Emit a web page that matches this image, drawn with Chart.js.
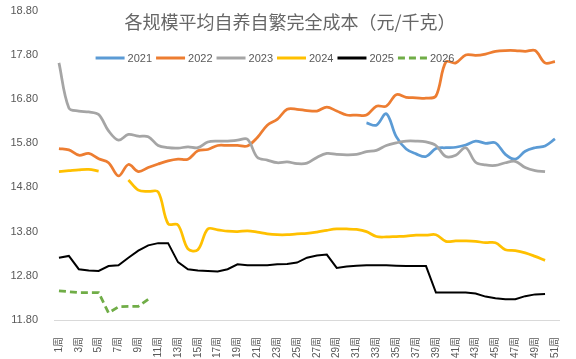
<!DOCTYPE html>
<html lang="zh">
<head>
    <meta charset="UTF-8">
    <script src="https://cdn.jsdelivr.net/npm/chart.js"></script>
    <title>各规模平均自养自繁完全成本</title>
    <style>
        body { margin: 0; background: #fff; }
        #wrap { width: 576px; height: 359px; }
    </style>
</head>
<body>
<div id="wrap"><canvas id="costChart" width="576" height="359"></canvas></div>

<script>
    var chartTitle = '各规模平均自养自繁完全成本（元/千克）';

    var weeks = ['1周','2周','3周','4周','5周','6周','7周','8周','9周','10周',
        '11周','12周','13周','14周','15周','16周','17周','18周','19周','20周',
        '21周','22周','23周','24周','25周','26周','27周','28周','29周','30周',
        '31周','32周','33周','34周','35周','36周','37周','38周','39周','40周',
        '41周','42周','43周','44周','45周','46周','47周','48周','49周','50周','51周'];

    var yTicks = [11.8, 12.8, 13.8, 14.8, 15.8, 16.8, 17.8, 18.8];

    var seriesNames = ['2021', '2022', '2023', '2024', '2025', '2026'];

    var y2021 = [null,null,null,null,null,null,null,null,null,null,
        null,null,null,null,null,null,null,null,null,null,
        null,null,null,null,null,null,null,null,null,null,
        null,16.26,16.21,16.47,15.95,15.67,15.56,15.50,15.68,15.70,
        15.71,15.76,15.85,15.80,15.81,15.55,15.44,15.62,15.70,15.74,15.90];

    var y2022 = [15.68,15.65,15.53,15.57,15.45,15.36,15.06,15.32,15.16,15.25,
        15.33,15.40,15.44,15.44,15.63,15.66,15.75,15.75,15.75,15.74,
        15.93,16.21,16.34,16.57,16.57,16.54,16.53,16.62,16.53,16.44,
        16.44,16.44,16.64,16.64,16.90,16.84,16.83,16.82,16.87,17.64,
        17.62,17.80,17.79,17.82,17.88,17.90,17.90,17.88,17.90,17.62,17.65];

    var y2023 = [17.62,16.60,16.53,16.51,16.45,16.08,15.87,16.00,15.96,15.95,
        15.75,15.70,15.69,15.72,15.70,15.83,15.85,15.85,15.87,15.89,
        15.48,15.42,15.36,15.38,15.34,15.35,15.48,15.57,15.55,15.54,
        15.55,15.61,15.64,15.75,15.81,15.85,15.85,15.83,15.75,15.50,
        15.53,15.70,15.37,15.31,15.30,15.36,15.39,15.25,15.18,15.16,null];

    var y2024 = [15.16,15.18,15.20,15.21,15.17,null,null,14.97,14.74,14.71,
        14.70,13.98,13.95,13.41,13.39,13.86,13.84,13.81,13.80,13.82,
        13.79,13.75,13.73,13.73,13.75,13.76,13.79,13.83,13.86,13.86,
        13.85,13.80,13.69,13.68,13.69,13.70,13.72,13.72,13.73,13.58,
        13.59,13.59,13.58,13.55,13.55,13.39,13.37,13.32,13.24,13.15,null];

    var y2025 = [13.21,13.25,12.95,12.92,12.91,13.02,13.04,13.21,13.37,13.49,
        13.54,13.54,13.11,12.95,12.92,12.91,12.90,12.95,13.06,13.04,
        13.04,13.04,13.06,13.07,13.10,13.21,13.26,13.28,12.98,13.01,
        13.03,13.04,13.04,13.04,13.03,13.02,13.02,13.02,12.42,12.42,
        12.42,12.42,12.40,12.33,12.29,12.27,12.27,12.34,12.38,12.39,null];

    var y2026 = [12.46,12.44,12.42,12.42,12.42,11.96,12.10,12.11,12.11,12.27];

    var seriesColors = ['#5B9BD5', '#ED7D31', '#A5A5A5', '#FFC000', '#000000', '#70AD47'];

    var textGrey = '#595959';

    function line(i, values, extra) {
        var ds = {
            label: seriesNames[i],
            data: values,
            borderColor: seriesColors[i],
            backgroundColor: seriesColors[i],
            borderWidth: 2.75,
            pointRadius: 0,
            pointHoverRadius: 0,
            tension: 0.35,
            spanGaps: false,
            fill: false,
            order: 6 - i
        };
        return Object.assign(ds, extra || {});
    }

    // title + legend are drawn over the plot, like the excel original
    var overlay = {
        id: 'overlay',
        afterDraw: function(chart) {
            var ctx = chart.ctx;
            ctx.save();
            ctx.textBaseline = 'middle';
            ctx.textAlign = 'center';
            ctx.font = '18px "Noto Sans CJK SC"';
            ctx.fillStyle = '#666666';
            ctx.fillText(chartTitle, 290, 22);

            ctx.fillStyle = textGrey;
            ctx.font = '11px "Liberation Sans"';
            ctx.textAlign = 'left';
            var sets = chart.data.datasets;
            var sample = 29, gap = 3, after = 4;
            var total = 0;
            sets.forEach(function(d) {
                total += sample + gap + ctx.measureText(d.label).width + after;
            });
            var x = 277 - total / 2;
            var y = 58;
            sets.forEach(function(d) {
                ctx.strokeStyle = d.borderColor;
                ctx.lineWidth = 3;
                ctx.setLineDash(d.borderDash || []);
                ctx.beginPath();
                ctx.moveTo(x, y);
                ctx.lineTo(x + sample, y);
                ctx.stroke();
                ctx.setLineDash([]);
                ctx.fillText(d.label, x + sample + gap, y + 1);
                x += sample + gap + ctx.measureText(d.label).width + after;
            });
            ctx.restore();
        }
    };

    new Chart(document.getElementById('costChart').getContext('2d'), {
        type: 'line',
        data: {
            labels: weeks,
            datasets: [
                line(0, y2021),
                line(1, y2022),
                line(2, y2023),
                line(3, y2024),
                line(4, y2025, { borderWidth: 2, tension: 0 }),
                line(5, y2026, { borderDash: [7, 4], tension: 0 })
            ]
        },
        options: {
            responsive: false,
            animation: false,
            devicePixelRatio: 1,
            layout: { padding: { top: 9, right: 3, left: 0, bottom: 0 } },
            plugins: {
                legend: { display: false },
                title: { display: false },
                tooltip: { enabled: false }
            },
            scales: {
                x: {
                    offset: true,
                    grid: { display: false },
                    border: { display: true, color: '#D9D9D9', width: 1 },
                    ticks: {
                        autoSkip: false,
                        maxRotation: 90,
                        minRotation: 90,
                        padding: 9,
                        color: textGrey,
                        font: { family: '"Liberation Sans", "Noto Sans CJK SC"', size: 10 },
                        callback: function(v, i) { return i % 2 === 0 ? weeks[i] : ''; }
                    },
                    afterFit: function(scale) { scale.height = 39; }
                },
                y: {
                    min: yTicks[0],
                    max: yTicks[yTicks.length - 1],
                    grid: { display: false },
                    border: { display: false },
                    afterBuildTicks: function(scale) {
                        scale.ticks = yTicks.map(function(v) { return { value: v }; });
                    },
                    ticks: {
                        padding: 8,
                        color: textGrey,
                        font: { family: '"Liberation Sans"', size: 11, lineHeight: 0.5 },
                        callback: function(v) { return Number(v).toFixed(2); }
                    },
                    afterFit: function(scale) { scale.width = 54; }
                }
            }
        },
        plugins: [overlay]
    });
</script>
</body>
</html>
